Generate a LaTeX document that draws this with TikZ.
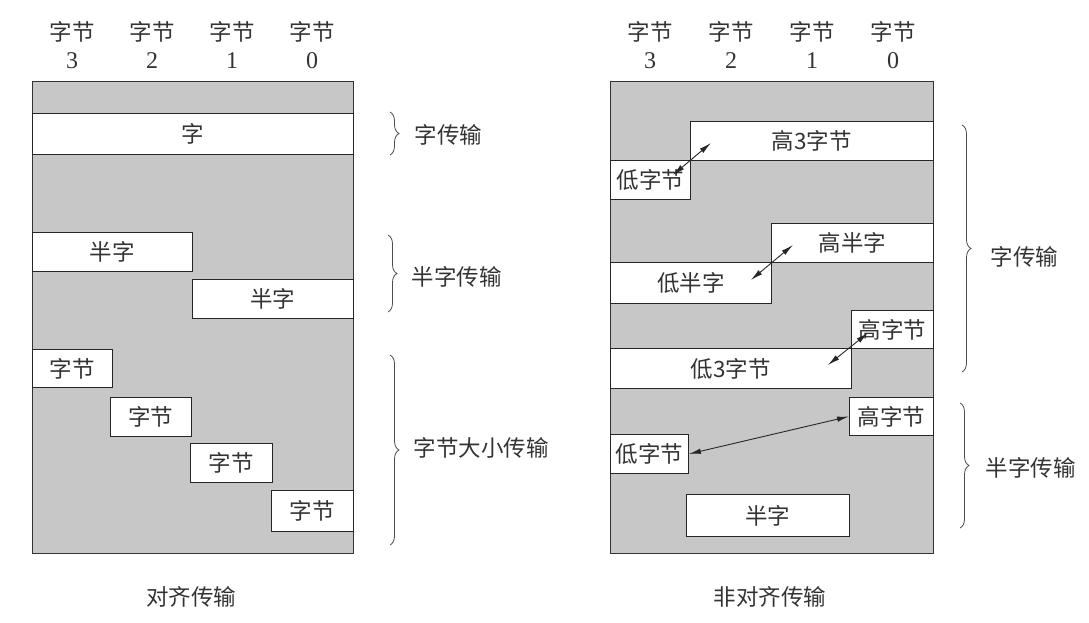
\documentclass[tikz,border=0pt]{standalone}
\usepackage{fontspec}
\setmainfont{Liberation Serif}
\newfontfamily\cjk{Noto Sans CJK SC}
\usetikzlibrary{arrows.meta,positioning,calc,decorations.pathreplacing}

\begin{document}
\begin{tikzpicture}[x=1pt, y=-1pt,
  font=\cjk\fontsize{22.5}{28}\selectfont,
  panel/.style={draw=black!80, line width=0.9pt, fill=black!22, inner sep=0pt},
  cell/.style={draw=black!85, line width=0.9pt, fill=white, inner sep=0pt,
               anchor=north west, text=black!80},
  arr/.style={{Latex[length=12pt,width=5.5pt]}-{Latex[length=12pt,width=5.5pt]}, line width=0.9pt, draw=black!85},
  brc/.style={decorate, decoration={brace, amplitude=9pt}, draw=black!70, line width=0.8pt},
  lab/.style={anchor=west, text=black!80},
  hdr/.style={align=center, text=black!80}
]
\useasboundingbox (0,0) rectangle (1089,622);

% ================= Left: aligned transfers =================
\node[panel, anchor=north west, minimum width=321pt, minimum height=472pt] (lpanel) at (32,81) {};
\foreach \b [count=\i] in {3,2,1,0}
  \node[hdr] (lh\b) at ({72+80*(\i-1)},45) {字节\\{\rmfamily\fontsize{24}{28}\selectfont\b}};

\node[cell, minimum width=321pt, minimum height=41pt] (word) at (32,113) {字};
\node[cell, minimum width=160pt, minimum height=39pt] (half1) at (32,232) {半字};
\node[cell, minimum width=161pt, minimum height=39pt] (half0) at (192,279) {半字};
\node[cell, minimum width=80pt, minimum height=38pt] (byte3) at (32,349) {字节};
\node[cell, minimum width=81pt, minimum height=39pt] (byte2) at (110,397) {字节};
\node[cell, minimum width=82pt, minimum height=39pt] (byte1) at (190,443) {字节};
\node[cell, minimum width=82pt, minimum height=41pt] (byte0) at (271,490) {字节};

\draw[brc] (390,112) -- (390,155);
\node[lab] (lwordt) at (411,135) {字传输};
\draw[brc] (388,235) -- (388,312);
\node[lab] (lhalft) at (408,277) {半字传输};
\draw[brc] (390,355) -- (390,545);
\node[lab] (lbytet) at (410,448) {字节大小传输};

\node[text=black!80] (lcap) at (191,597) {对齐传输};

% ================= Right: unaligned transfers =================
\node[panel, anchor=north west, minimum width=323pt, minimum height=472pt] (rpanel) at (610,81) {};
\foreach \b [count=\i] in {3,2,1,0}
  \node[hdr] (rh\b) at ({650+81*(\i-1)},45) {字节\\{\rmfamily\fontsize{24}{28}\selectfont\b}};

\node[cell, minimum width=243pt, minimum height=39pt] (hi3) at (690,121) {高3字节};
\node[cell, minimum width=80pt, minimum height=39pt] (lo1) at (610,160) {低字节};
\node[cell, minimum width=162pt, minimum height=39pt] (hihalf) at (771,223) {高半字};
\node[cell, minimum width=161pt, minimum height=41pt] (lohalf) at (610,262) {低半字};
\node[cell, minimum width=82pt, minimum height=38pt] (hi1) at (851,310) {高字节};
\node[cell, minimum width=241pt, minimum height=40pt] (lo3) at (610,348) {低3字节};
\node[cell, minimum width=84pt, minimum height=38pt] (hib) at (849,397) {高字节};
\node[cell, minimum width=78pt, minimum height=39pt] (lob) at (610,434) {低字节};
\node[cell, minimum width=163pt, minimum height=42pt] (rhalf) at (686,494) {半字};

\coordinate (a1s) at ($(lo1.north east)+(-18,15)$);
\coordinate (a1e) at ($(lo1.north east)+(20,-17)$);
\coordinate (a2s) at ($(lohalf.north east)+(-21,18)$);
\coordinate (a2e) at ($(lohalf.north east)+(21,-17)$);
\coordinate (a3s) at ($(lo3.north east)+(-24,17)$);
\coordinate (a3e) at ($(lo3.north east)+(16,-15)$);
\draw[arr] (a1s) -- (a1e);
\draw[arr] (a2s) -- (a2e);
\draw[arr] (a3s) -- (a3e);
\draw[arr] (lob.east) -- (hib.west);

\draw[brc] (962,125) -- (962,372);
\node[lab] (rwordt) at (987,257) {字传输};
\draw[brc] (960,403) -- (960,528);
\node[lab] (rhalft) at (982,468) {半字传输};

\node[text=black!80] (rcap) at (770,597) {非对齐传输};

\end{tikzpicture}
\end{document}
